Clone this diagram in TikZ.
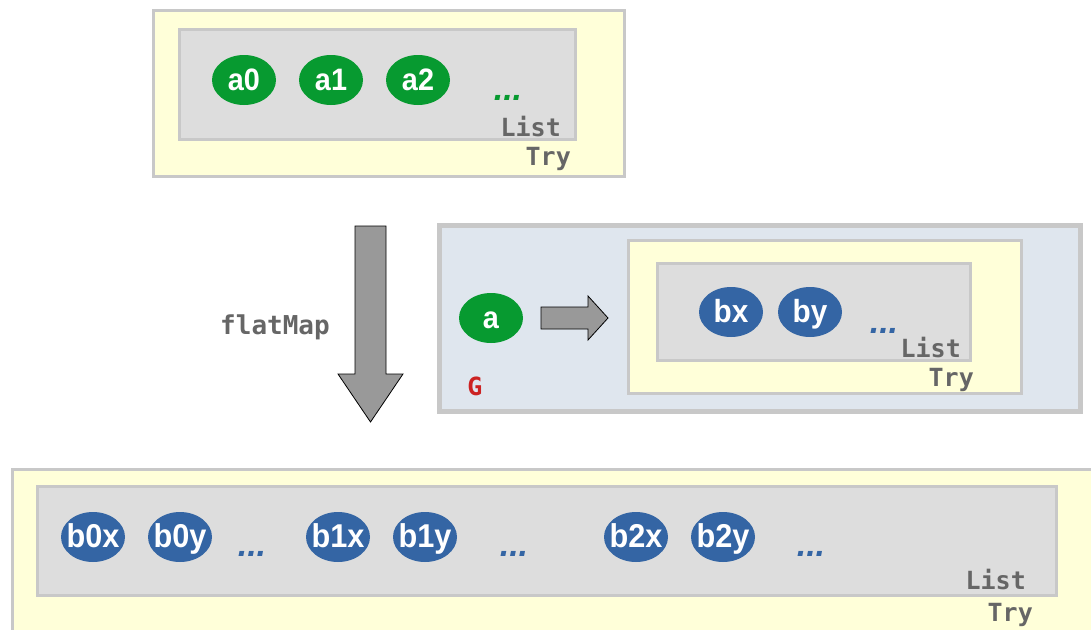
\documentclass[tikz,border=0pt]{standalone}
\usepackage{fontspec}
\setmainfont{Liberation Sans}
\newfontfamily\monofnt{DejaVu Sans Mono}
\newfontfamily\elfnt{Liberation Sans}[FakeStretch=0.93]
\usetikzlibrary{shapes.geometric}
\definecolor{trybg}{HTML}{FFFFD9}
\definecolor{listbg}{HTML}{DDDDDD}
\definecolor{bordc}{HTML}{C8C8C8}
\definecolor{gbg}{HTML}{DFE6EE}
\definecolor{elgreen}{HTML}{079A30}
\definecolor{elblue}{HTML}{3465A4}
\definecolor{lbl}{HTML}{666666}
\definecolor{gred}{HTML}{CC2222}
\definecolor{arrfill}{HTML}{999999}
\tikzset{
  x=1pt, y=1pt,
  trybox/.style={draw=bordc, fill=trybg, line width=3pt, rectangle, inner sep=0pt},
  listbox/.style={draw=bordc, fill=listbg, line width=3pt, rectangle, inner sep=0pt},
  gbox/.style={draw=bordc, fill=gbg, line width=5pt, rectangle, inner sep=0pt},
  elem/.style={ellipse, minimum width=64pt, minimum height=50pt, inner xsep=-16pt, inner ysep=-7pt, text=white, text height=21pt, text depth=0pt, font=\elfnt\bfseries\fontsize{31}{31}\selectfont},
  aelem/.style={elem, fill=elgreen},
  belem/.style={elem, fill=elblue, font=\elfnt\bfseries\fontsize{33}{33}\selectfont},
  dots/.style={inner sep=0pt, anchor=base, font=\bfseries\itshape\fontsize{34}{34}\selectfont},
  tname/.style={inner sep=0pt, anchor=base east, text=lbl, font=\monofnt\bfseries\fontsize{25}{25}\selectfont},
  bigarrow/.style={draw=black, fill=arrfill, line width=0.8pt, line join=miter},
}
\begin{document}
\begin{tikzpicture}
\useasboundingbox (0,0) rectangle (1091,-629);
\clip (0,0) rectangle (1091,-629);
% top
\node[trybox, minimum width=471pt, minimum height=166pt] (t1) at (389,-93.5) {};
\node[listbox, minimum width=396pt, minimum height=110pt] (l1) at (377.5,-84.5) {};
\node[aelem] (a0) at (244,-80) {a0};
\node[aelem] (a1) at (331,-80) {a1};
\node[aelem] (a2) at (418,-80) {a2};
\node[dots, text=elgreen] (d1) at (508,-100) {...};
\node[tname] (lt1) at (561,-136) {List};
\node[tname] (tt1) at (571,-165) {Try};
% flatMap arrow
\coordinate (ft) at (370.5,-226);
\coordinate (fb) at (370.5,-422);
\draw[bigarrow] ([xshift=-15.5pt]ft) -- ([xshift=15.5pt]ft) -- ([xshift=15.5pt,yshift=48pt]fb) -- ([xshift=32.5pt,yshift=48pt]fb) -- (fb) -- ([xshift=-32.5pt,yshift=48pt]fb) -- ([xshift=-15.5pt,yshift=48pt]fb) -- cycle;
\node[inner sep=0pt, text=lbl, font=\monofnt\bfseries\fontsize{26}{26}\selectfont] (fm) at (275,-327) {flatMap};
% G box
\node[gbox, minimum width=641pt, minimum height=186pt] (gb) at (760,-318.5) {};
\node[trybox, minimum width=393pt, minimum height=153pt] (t2) at (825,-317) {};
\node[listbox, minimum width=313pt, minimum height=97pt] (l2) at (814,-312) {};
\node[aelem] (a) at (491,-318) {a};
\coordinate (rs) at (541,-318);
\coordinate (re) at (608,-318);
\draw[bigarrow] ([yshift=11pt]rs) -- ([xshift=-20pt,yshift=11pt]re) -- ([xshift=-20pt,yshift=22pt]re) -- (re) -- ([xshift=-20pt,yshift=-22pt]re) -- ([xshift=-20pt,yshift=-11pt]re) -- ([yshift=-11pt]rs) -- cycle;
\node[belem, font=\elfnt\bfseries\fontsize{32}{32}\selectfont] (bx) at (731,-312) {bx};
\node[belem, font=\elfnt\bfseries\fontsize{32}{32}\selectfont] (by) at (810,-312) {by};
\node[dots, text=elblue] (d2) at (884,-333) {...};
\node[tname] (lt2) at (961,-357) {List};
\node[tname] (tt2) at (974,-386) {Try};
\node[inner sep=0pt, anchor=base, text=gred, font=\monofnt\bfseries\fontsize{25}{25}\selectfont] (g) at (475,-395) {G};
% bottom
\node[trybox, minimum width=1100pt, minimum height=200pt, anchor=north west] (t3) at (11,-467.5) {};
\node[listbox, minimum width=1019pt, minimum height=109pt] (l3) at (547,-541) {};
\node[belem] (b0x) at (93,-537) {b0x};
\node[belem] (b0y) at (180,-537) {b0y};
\node[dots, text=elblue] (d3) at (252,-556) {...};
\node[belem] (b1x) at (338,-537) {b1x};
\node[belem] (b1y) at (425,-537) {b1y};
\node[dots, text=elblue] (d4) at (514,-556) {...};
\node[belem] (b2x) at (636,-537) {b2x};
\node[belem] (b2y) at (723,-537) {b2y};
\node[dots, text=elblue] (d5) at (811,-556) {...};
\node[tname] (lt3) at (1026,-589) {List};
\node[tname] (tt3) at (1033,-621) {Try};
\end{tikzpicture}
\end{document}
